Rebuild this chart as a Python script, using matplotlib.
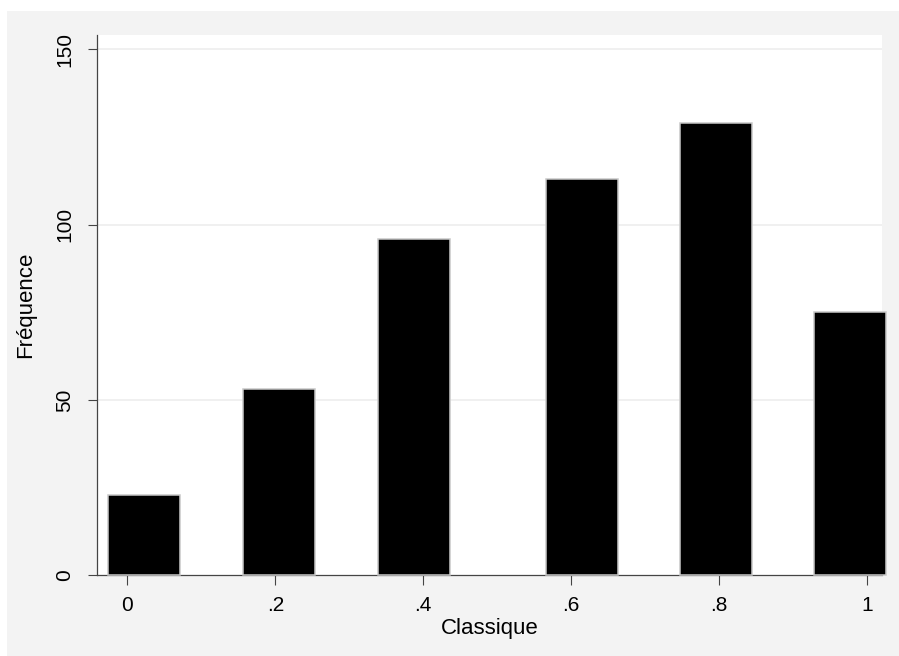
import matplotlib
matplotlib.use("Agg")
import matplotlib.pyplot as plt
from matplotlib.patches import Rectangle

# Data
bin_centers = [0.023, 0.205, 0.387, 0.614, 0.796, 0.977]
counts = [23, 53, 96, 113, 129, 75]
bin_width = 0.097
x_ticks = [0, 0.2, 0.4, 0.6, 0.8, 1.0]
x_tick_labels = ["0", ".2", ".4", ".6", ".8", "1"]
y_ticks = [0, 50, 100, 150]
y_tick_labels = ["0", "50", "100", "150"]
x_label = "Classique"
y_label = "Fréquence"

plt.rcParams['font.family'] = ['Liberation Sans', 'DejaVu Sans']

W, H = 899, 656
fig = plt.figure(figsize=(W / 100, H / 100), dpi=100)
fig.patch.set_facecolor("white")
fig.patches.append(Rectangle((7 / W, 0), 1 - 7 / W, (H - 11) / H,
                             transform=fig.transFigure, facecolor="#f3f3f3",
                             edgecolor="none", zorder=-10))

left, right = 97 / W, 881.7 / W
bottom, top = (H - 575.3) / H, (H - 35) / H
ax = fig.add_axes([left, bottom, right - left, top - bottom])
ax.set_zorder(1)
ax.set_facecolor("white")

ax.bar(bin_centers, counts, width=bin_width, color="black",
       edgecolor="#c8c8c8", linewidth=1.1, clip_on=False, zorder=3)

ax.set_xlim(-0.041, 1.0195)
ax.set_ylim(0, 154.1)

for y in y_ticks[1:]:
    ax.axhline(y, color="#eeeeee", linewidth=1.2, zorder=1)

ax.set_xticks(x_ticks)
ax.set_xticklabels(x_tick_labels, fontsize=15)
ax.set_yticks(y_ticks)
ax.set_yticklabels(y_tick_labels, fontsize=15, rotation=90, va="center")

for s in ["top", "right"]:
    ax.spines[s].set_visible(False)
for s in ["left", "bottom"]:
    ax.spines[s].set_color("#444444")
    ax.spines[s].set_linewidth(0.9)

ax.tick_params(axis="x", length=7, width=0.8, color="#444444", pad=8)
ax.tick_params(axis="y", length=6.5, width=0.8, color="#444444", pad=10)

ax.set_xlabel(x_label, fontsize=16, labelpad=2)
ax.set_ylabel(y_label, fontsize=16, labelpad=14)

fig.savefig("out.png", dpi=100)
